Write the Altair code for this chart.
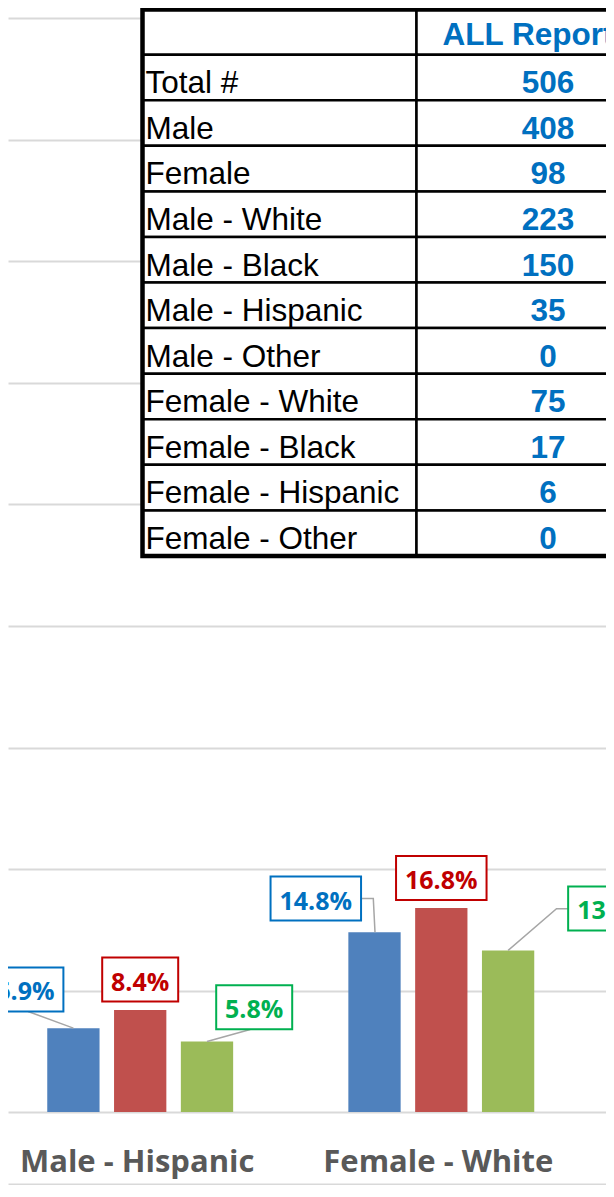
import altair as alt
import pandas as pd

# ------------------------------------------------------------------ data
CATEGORIES = ["Male - Hispanic", "Female - White"]
SERIES = ["Series 1", "Series 2", "Series 3"]
SERIES_1_VALUES = [6.9, 14.8]
SERIES_2_VALUES = [8.4, 16.8]
SERIES_3_VALUES = [5.8, 13.3]

TABLE_HEADER = "ALL Reports"
TABLE_LABELS = ["Total #", "Male", "Female", "Male - White", "Male - Black",
                "Male - Hispanic", "Male - Other", "Female - White",
                "Female - Black", "Female - Hispanic", "Female - Other"]
TABLE_COUNTS = [506, 408, 98, 223, 150, 35, 0, 75, 17, 6, 0]

GRID_VALUES = [0, 10, 20, 30, 40, 50, 60, 70, 80, 90]

# ------------------------------------------------------------------ layout / style
W, H = 598, 1176
PX_PER_PCT = 12.15
ZERO_PX = 1104                         # pixel row of the 0 % line inside the plot
PX_PER_CAT = 301.1
X_MIN = -132.2 / PX_PER_CAT
X_DOMAIN = [X_MIN, X_MIN + W / PX_PER_CAT]   # category units (visible window)
Y_DOMAIN = [-(H - ZERO_PX) / PX_PER_PCT, ZERO_PX / PX_PER_PCT]
PXX = W / (X_DOMAIN[1] - X_DOMAIN[0])
PXY = H / (Y_DOMAIN[1] - Y_DOMAIN[0])
BAR_STEP_PX = 66.8
BAR_W_PX = 52.3
BOX_H_PX = 44
CAT_LABEL_BASELINE_PX = 59.7

BAR_COLORS = ["#4F81BD", "#C0504D", "#9BBB59"]
LABEL_COLORS = ["#0070C0", "#C00000", "#00B050"]
GRID_COLOR = "#D9D9D9"
LEADER_COLOR = "#A6A6A6"
AXIS_TEXT = "#595959"

# label box centre offsets from bar top (px; +x right, +y up)
LABEL_OFFSETS = {
    (0, 0): (-48.0, 38.7), (0, 1): (0.0, 30.4), (0, 2): (47.2, 34.3),
    (1, 0): (-58.7, 33.6), (1, 1): (0.0, 29.8), (1, 2): (105.3, 42.0),
}
# leader line paths from bar top (px; +x right, +y up)
LEADER_PATHS = {
    (0, 0): [(0, 0), (-45.3, 16.7)],
    (0, 2): [(0, 0), (43.2, 12.0)],
    (1, 0): [(0.5, 0), (-1.2, 33.6), (-13.8, 33.6)],
    (1, 2): [(0, 0), (48.4, 41.7), (60.1, 41.7)],
}

# table geometry (independent scales, in column / row units)
COL_PX = 274
TABLE_X_DOMAIN = [-134.5 / COL_PX, (W - 134.5) / COL_PX]
ROW_PX = 45.57
TABLE_Y_DOMAIN = [2.5 / ROW_PX, 2.5 / ROW_PX + H / ROW_PX]
TABLE_TOP = 4.1 / ROW_PX
HDR = 49.2 / ROW_PX
COL_EDGES = [0, 1, 1.96]
ROW_EDGES = [TABLE_TOP, HDR] + [HDR + k for k in range(1, len(TABLE_LABELS) + 1)]

# ------------------------------------------------------------------ frames
values = [SERIES_1_VALUES, SERIES_2_VALUES, SERIES_3_VALUES]
rows = []
for ci, cat in enumerate(CATEGORIES):
    for si, s in enumerate(SERIES):
        v = values[si][ci]
        ox, oy = LABEL_OFFSETS[(ci, si)]
        rows.append(dict(cat=cat, ci=ci, series=s, si=si, value=v,
                         label=f"{v:.1f}%", ldx=ox, ldy=oy))
bars_df = pd.DataFrame(rows)

lrows = []
for (ci, si), pts in LEADER_PATHS.items():
    for k, (ox, oy) in enumerate(pts):
        lrows.append(dict(lid=f"{ci}-{si}", pt=k, ci=ci, si=si,
                          value=values[si][ci], ox=ox, oy=oy))
leaders_df = pd.DataFrame(lrows)

cats_df = pd.DataFrame({"cat": CATEGORIES, "ci": list(range(len(CATEGORIES)))})

XS = alt.Scale(domain=X_DOMAIN, nice=False, zero=False, padding=0)
YS = alt.Scale(domain=Y_DOMAIN, nice=False, zero=False, padding=0)
XA = alt.Axis(grid=False, labels=False, ticks=False, domain=True,
              domainColor=GRID_COLOR, domainWidth=2, title=None)
YA = alt.Axis(values=GRID_VALUES, grid=True, gridColor=GRID_COLOR, gridWidth=2,
              labels=False, ticks=False, domain=False, title=None)

base = (
    alt.Chart(bars_df)
    .transform_calculate(xc=f"datum.ci + (datum.si - 1) * {BAR_STEP_PX / PXX}")
    .transform_calculate(
        x0=f"datum.xc - {BAR_W_PX / 2 / PXX}",
        x1=f"datum.xc + {BAR_W_PX / 2 / PXX}",
        bx=f"datum.xc + datum.ldx / {PXX}",
        by=f"datum.value + datum.ldy / {PXY}",
        hw=f"(14.5 * length(datum.label) + 18) / 2 / {PXX}",
    )
    .transform_calculate(
        bx0="datum.bx - datum.hw",
        bx1="datum.bx + datum.hw",
        by0=f"datum.by - {BOX_H_PX / 2 / PXY}",
        by1=f"datum.by + {BOX_H_PX / 2 / PXY}",
    )
)

bars = base.mark_bar().encode(
    x=alt.X("x0:Q", scale=XS, axis=XA),
    x2="x1:Q",
    y=alt.Y("value:Q", scale=YS, axis=YA),
    y2=alt.datum(0),
    color=alt.Color("series:N", scale=alt.Scale(domain=SERIES, range=BAR_COLORS), legend=None),
)

leaders = (
    alt.Chart(leaders_df)
    .transform_calculate(
        lx=f"datum.ci + (datum.si - 1) * {BAR_STEP_PX / PXX} + datum.ox / {PXX}",
        ly=f"datum.value + datum.oy / {PXY}",
    )
    .mark_line(color=LEADER_COLOR, strokeWidth=1.5)
    .encode(
        x=alt.X("lx:Q", scale=XS, axis=XA),
        y=alt.Y("ly:Q", scale=YS, axis=YA),
        detail="lid:N",
        order="pt:Q",
    )
)

boxes = base.mark_rect(fill="white", strokeWidth=2).encode(
    x=alt.X("bx0:Q", scale=XS, axis=XA),
    x2="bx1:Q",
    y=alt.Y("by0:Q", scale=YS, axis=YA),
    y2="by1:Q",
    stroke=alt.Stroke("series:N", scale=alt.Scale(domain=SERIES, range=LABEL_COLORS), legend=None),
)

labels = base.mark_text(font="Open Sans", fontWeight="bold", fontSize=25,
                        baseline="middle", align="center", dy=3).encode(
    x=alt.X("bx:Q", scale=XS, axis=XA),
    y=alt.Y("by:Q", scale=YS, axis=YA),
    text="label:N",
    fill=alt.Fill("series:N", scale=alt.Scale(domain=SERIES, range=LABEL_COLORS), legend=None),
)

cat_labels = alt.Chart(cats_df).mark_text(
    font="Open Sans", fontWeight="bold", fontSize=31, color=AXIS_TEXT,
    baseline="alphabetic", align="center", dx=-3,
).encode(
    x=alt.X("ci:Q", scale=XS, axis=XA),
    y=alt.YDatum(-CAT_LABEL_BASELINE_PX / PXY, scale=YS, axis=YA),
    text="cat:N",
)

bar_layer = alt.layer(bars, leaders, boxes, labels, cat_labels)

# ------------------------------------------------------------------ table
XT = alt.Scale(domain=TABLE_X_DOMAIN, nice=False, zero=False, padding=0)
YT = alt.Scale(domain=TABLE_Y_DOMAIN, nice=False, zero=False, reverse=True, padding=0)

cell_rows = []
for r in range(len(ROW_EDGES) - 1):
    for c in range(len(COL_EDGES) - 1):
        cell_rows.append(dict(left=COL_EDGES[c], right=COL_EDGES[c + 1],
                              top=ROW_EDGES[r], bottom=ROW_EDGES[r + 1]))
cells_df = pd.DataFrame(cell_rows)

text_df = pd.DataFrame({
    "label": TABLE_LABELS,
    "count": [str(v) for v in TABLE_COUNTS],
    "bottom": ROW_EDGES[2:],
})

cells = alt.Chart(cells_df).mark_rect(fill="white", stroke="black", strokeWidth=2.5).encode(
    x=alt.X("left:Q", scale=XT, axis=None),
    x2="right:Q",
    y=alt.Y("top:Q", scale=YT, axis=None),
    y2="bottom:Q",
)

outer = alt.Chart(pd.DataFrame({"left": [COL_EDGES[0]], "right": [COL_EDGES[-1]],
                                "top": [ROW_EDGES[0]], "bottom": [ROW_EDGES[-1]]})).mark_rect(
    fillOpacity=0, stroke="black", strokeWidth=4.5
).encode(
    x=alt.X("left:Q", scale=XT, axis=None),
    x2="right:Q",
    y=alt.Y("top:Q", scale=YT, axis=None),
    y2="bottom:Q",
)

row_labels = alt.Chart(text_df).mark_text(
    font="Liberation Sans", fontSize=31.5, color="black",
    align="left", baseline="alphabetic", dx=3, dy=-7,
).encode(
    x=alt.XDatum(COL_EDGES[0], scale=XT, axis=None),
    y=alt.Y("bottom:Q", scale=YT, axis=None),
    text="label:N",
)

row_counts = alt.Chart(text_df).mark_text(
    font="Liberation Sans", fontSize=31.5, fontWeight="bold", color="#0070C0",
    align="center", baseline="alphabetic", dy=-7,
).encode(
    x=alt.XDatum((COL_EDGES[1] + COL_EDGES[2]) / 2, scale=XT, axis=None),
    y=alt.Y("bottom:Q", scale=YT, axis=None),
    text="count:N",
)

header = alt.Chart(pd.DataFrame({"h": [TABLE_HEADER]})).mark_text(
    font="Liberation Sans", fontSize=31.5, fontWeight="bold", color="#0070C0",
    align="left", baseline="alphabetic", dx=26, dy=-10,
).encode(
    x=alt.XDatum(COL_EDGES[1], scale=XT, axis=None),
    y=alt.YDatum(ROW_EDGES[1], scale=YT, axis=None),
    text="h:N",
)

table_layer = alt.layer(cells, outer, row_labels, row_counts, header)

chart = (
    alt.layer(bar_layer, table_layer)
    .resolve_scale(x="independent", y="independent")
    .properties(
        width=W, height=H,
        padding={"left": 0, "top": 0, "right": 0, "bottom": 1},
        autosize=alt.AutoSizeParams(type="none"),
        background="white",
    )
    .configure_view(stroke=None)
)

chart.save("out.html", embed_options={"renderer": "svg", "actions": False})
